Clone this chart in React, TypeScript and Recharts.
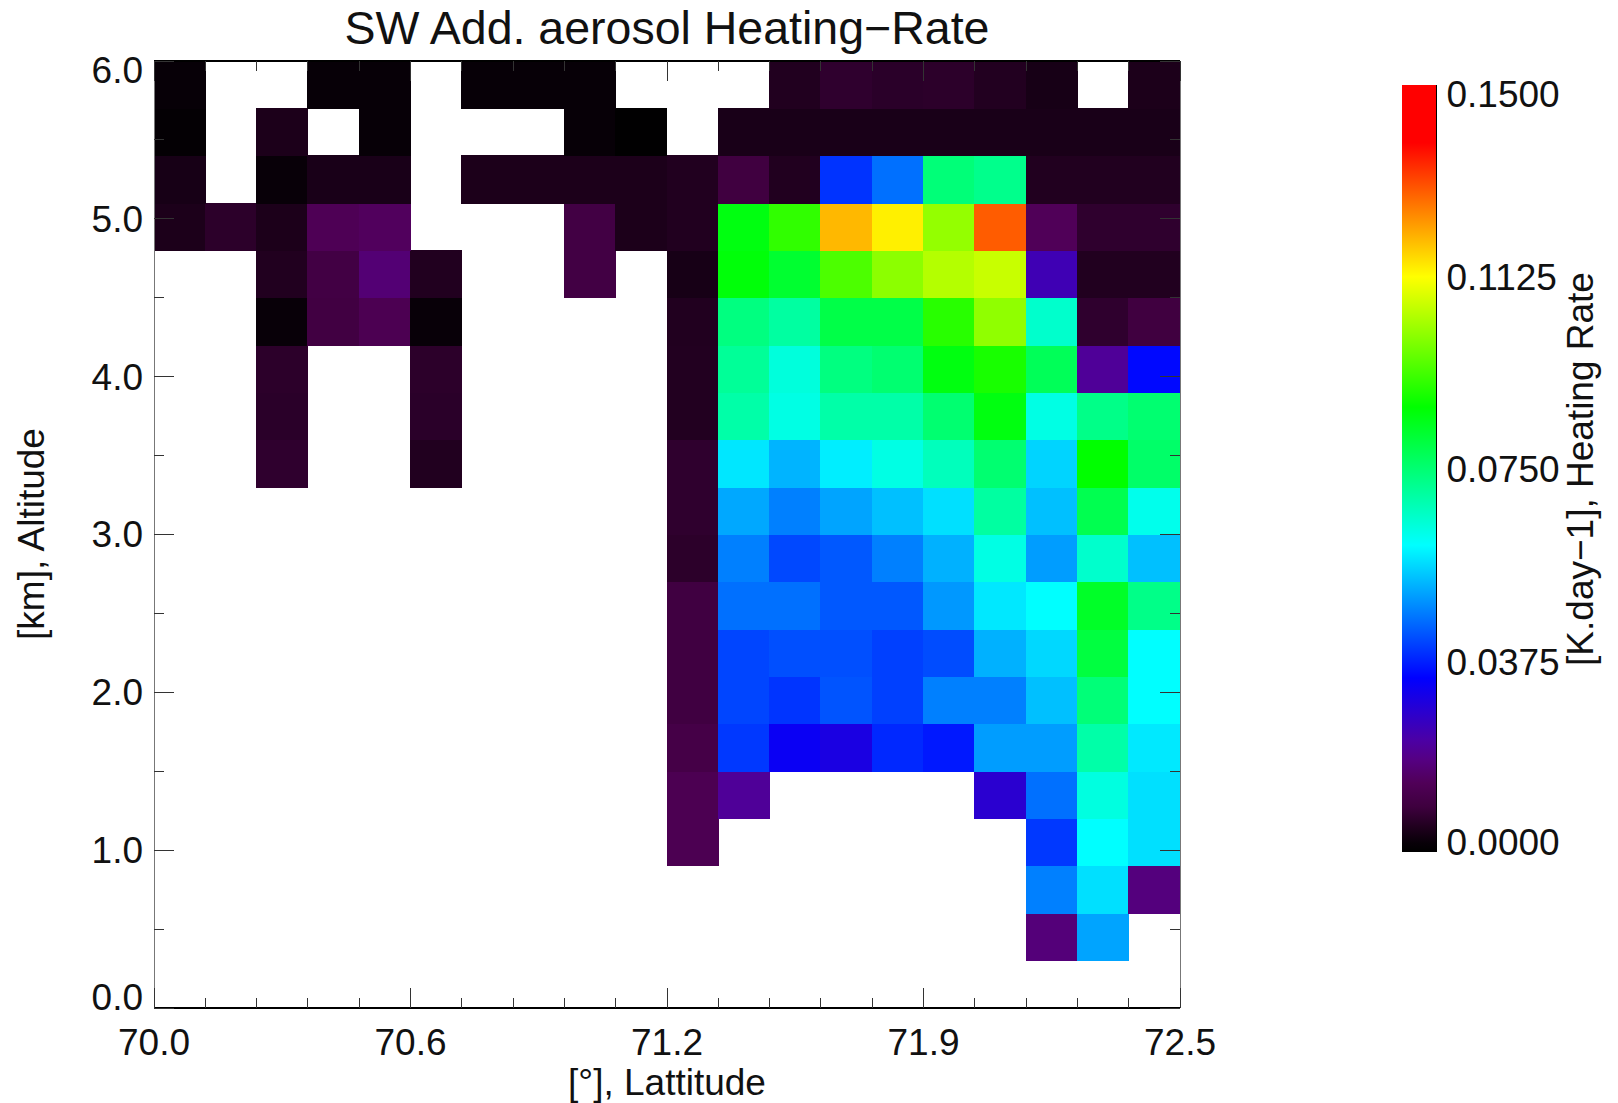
import React from "react"
import { BarChart, Bar, Cell, XAxis, YAxis } from "recharts"

const N = null

// heating rate per cell, K/day, one array per altitude row, top row first
const row570 = [0.0015, N, N, 0.0015, 0.0015, N, 0.0015, 0.0015, 0.0015, N, N, N, 0.005, 0.0068, 0.0062, 0.0064, 0.0052, 0.0038, N, 0.0044]
const row540 = [0.001, N, 0.0044, N, 0.0015, N, N, N, 0.0015, 0.0003, N, 0.004, 0.004, 0.004, 0.004, 0.004, 0.004, 0.004, 0.004, 0.004]
const row510 = [0.0038, N, 0.0018, 0.004, 0.004, N, 0.0044, 0.0044, 0.0044, 0.0044, 0.005, 0.0092, 0.005, 0.0392, 0.0454, 0.0743, 0.0722, 0.005, 0.005, 0.005]
const row480 = [0.0044, 0.0064, 0.0044, 0.013, 0.014, N, N, N, 0.0098, 0.0044, 0.005, 0.0853, 0.0918, 0.1198, 0.114, 0.1018, 0.1292, 0.0135, 0.0068, 0.0068]
const row450 = [N, N, 0.005, 0.0098, 0.0165, 0.005, N, N, 0.0098, N, 0.0038, 0.086, 0.0819, 0.0946, 0.101, 0.105, 0.107, 0.0239, 0.005, 0.005]
const row420 = [N, N, 0.0018, 0.0095, 0.0125, 0.0018, N, N, N, N, 0.005, 0.0735, 0.07, 0.0794, 0.0794, 0.091, 0.1014, 0.0654, 0.0068, 0.0092]
const row390 = [N, N, 0.0064, N, N, 0.0064, N, N, N, N, 0.0052, 0.0709, 0.0637, 0.0735, 0.0751, 0.0853, 0.0894, 0.0777, 0.0205, 0.0348]
const row360 = [N, N, 0.0062, N, N, 0.0062, N, N, N, N, 0.0052, 0.0692, 0.0629, 0.0692, 0.0692, 0.0751, 0.0853, 0.0629, 0.0726, 0.0751]
const row330 = [N, N, 0.0068, N, N, 0.005, N, N, N, N, 0.0068, 0.0576, 0.0524, 0.0583, 0.0629, 0.0671, 0.0751, 0.0556, 0.087, 0.076]
const row300 = [N, N, N, N, N, N, N, N, N, N, 0.0068, 0.0511, 0.047, 0.0507, 0.0536, 0.0568, 0.07, 0.0536, 0.0785, 0.062]
const row270 = [N, N, N, N, N, N, N, N, N, N, 0.0064, 0.047, 0.0413, 0.043, 0.047, 0.052, 0.0629, 0.05, 0.0654, 0.0536]
const row240 = [N, N, N, N, N, N, N, N, N, N, 0.0093, 0.0454, 0.0454, 0.043, 0.043, 0.0495, 0.0577, 0.06, 0.0828, 0.0726]
const row210 = [N, N, N, N, N, N, N, N, N, N, 0.0093, 0.041, 0.0421, 0.0421, 0.0405, 0.0418, 0.052, 0.056, 0.0802, 0.06]
const row180 = [N, N, N, N, N, N, N, N, N, N, 0.0093, 0.041, 0.0393, 0.0426, 0.0405, 0.047, 0.047, 0.0536, 0.0743, 0.06]
const row150 = [N, N, N, N, N, N, N, N, N, N, 0.0105, 0.0397, 0.0325, 0.03, 0.0381, 0.0364, 0.05, 0.05, 0.0692, 0.0578]
const row120 = [N, N, N, N, N, N, N, N, N, N, 0.0125, 0.0205, N, N, N, N, 0.0275, 0.0454, 0.0633, 0.0568]
const row090 = [N, N, N, N, N, N, N, N, N, N, 0.0125, N, N, N, N, N, N, 0.0397, 0.06, 0.0568]
const row060 = [N, N, N, N, N, N, N, N, N, N, N, N, N, N, N, N, N, 0.047, 0.0568, 0.0175]
const row030 = [N, N, N, N, N, N, N, N, N, N, N, N, N, N, N, N, N, 0.017, 0.0507, N]
const row000 = [N, N, N, N, N, N, N, N, N, N, N, N, N, N, N, N, N, N, N, N]

const rows = [row570, row540, row510, row480, row450, row420, row390, row360, row330, row300, row270, row240, row210, row180, row150, row120, row090, row060, row030, row000]

const columns = [70.0625, 70.1875, 70.3125, 70.4375, 70.5625, 70.6875, 70.8125, 70.9375, 71.0625, 71.1875, 71.3125, 71.4375, 71.5625, 71.6875, 71.8125, 71.9375, 72.0625, 72.1875, 72.3125, 72.4375]
const rowHeight = 0.3

const xMajor = [70, 70.625, 71.25, 71.875, 72.5]
const xMajorLabels = ["70.0", "70.6", "71.2", "71.9", "72.5"]
const xTicks = [70, 70.125, 70.25, 70.375, 70.5, 70.625, 70.75, 70.875, 71, 71.125, 71.25, 71.375, 71.5, 71.625, 71.75, 71.875, 72, 72.125, 72.25, 72.375, 72.5]
const yMajor = [0, 1, 2, 3, 4, 5, 6]
const yTicks = [0, 0.5, 1, 1.5, 2, 2.5, 3, 3.5, 4, 4.5, 5, 5.5, 6]
const barTicks = [0, 0.0375, 0.075, 0.1125, 0.15]
const barTickNudge = [-10, 2, 1, 0, 9]

// colour table
const stopValues = [0, 0.0018, 0.0049, 0.0088, 0.0135, 0.018, 0.0219, 0.0278, 0.034, 0.06, 0.087, 0.1125, 0.1387, 0.15]
const stopColors = [[0, 0, 0], [8, 0, 8], [32, 0, 30], [62, 0, 62], [80, 0, 88], [85, 0, 130], [75, 0, 165], [40, 0, 210], [0, 0, 255], [0, 255, 255], [0, 255, 0], [255, 255, 0], [255, 0, 0], [255, 0, 0]]

const colorOf = (v: number) => {
  let i = 0
  while (i < stopValues.length - 2 && v > stopValues[i + 1]) i++
  const t = Math.min(1, (v - stopValues[i]) / (stopValues[i + 1] - stopValues[i]))
  const c = stopColors[i].map((a, k) => Math.round(a + (stopColors[i + 1][k] - a) * t))
  return `rgb(${c[0]},${c[1]},${c[2]})`
}

// stacked from the ground up, so the table only holds the row thickness
const chartData = columns.map((lat) => {
  const result: any = { lat }
  rows.forEach((_, r) => {
    result[`r${r}`] = rowHeight
  })
  return result
})

const font = "'Liberation Sans', Arial, sans-serif"
const ink = "#111"
const tickInk = "#333"
const fontSize = 37
const majorLen = 20
const minorLen = 10

const BottomTick = ({ x, y, payload }: any) => {
  const i = xMajor.indexOf(payload.value)
  return (
    <g>
      <line x1={x} x2={x} y1={y} y2={y - (i >= 0 ? majorLen : minorLen)} stroke={tickInk} />
      {i >= 0 && (
        <text x={x} y={y + 47} textAnchor="middle" fontSize={fontSize} fontFamily={font} fill={ink}>
          {xMajorLabels[i]}
        </text>
      )}
    </g>
  )
}

const TopTick = ({ x, y, payload }: any) => (
  <line x1={x} x2={x} y1={y} y2={y + (xMajor.includes(payload.value) ? majorLen : minorLen)} stroke={tickInk} />
)

const LeftTick = ({ x, y, payload }: any) => {
  const major = yMajor.includes(payload.value)
  // the end labels sit inside the axis range
  const shift = payload.value === 6 ? 9 : payload.value === 0 ? -11 : 0
  return (
    <g>
      <line x1={x} x2={x + (major ? majorLen : minorLen)} y1={y} y2={y} stroke={tickInk} />
      {major && (
        <text x={x - 11} y={y + shift} dy="0.35em" textAnchor="end" fontSize={fontSize} fontFamily={font} fill={ink}>
          {payload.value.toFixed(1)}
        </text>
      )}
    </g>
  )
}

const RightTick = ({ x, y, payload }: any) => (
  <line x1={x} x2={x - (yMajor.includes(payload.value) ? majorLen : minorLen)} y1={y} y2={y} stroke={tickInk} />
)

const BarTick = ({ x, y, payload }: any) => (
  <text x={x} y={y + barTickNudge[barTicks.indexOf(payload.value)]} dy="0.35em" textAnchor="start" fontSize={fontSize} fontFamily={font} fill={ink}>
    {payload.value.toFixed(4)}
  </text>
)

export default function App() {
  const latAxis = { dataKey: "lat", type: "number" as const, domain: [70, 72.5], allowDataOverflow: true, ticks: xTicks, interval: 0 as const, tickLine: false, tickSize: 0, tickMargin: 0 }
  const altAxis = { type: "number" as const, domain: [0, 6], allowDataOverflow: true, ticks: yTicks, interval: 0 as const, tickLine: false, tickSize: 0, tickMargin: 0 }
  return (
    <div style={{ position: "absolute", left: 0, top: 0, width: 1618, height: 1103, shapeRendering: "crispEdges", background: "#fff" }}>
      <BarChart
        width={1618}
        height={1103}
        data={chartData}
        barCategoryGap={0}
        margin={{ top: 61, right: 438, bottom: 35, left: 54 }}
      >
        <XAxis xAxisId="cols" dataKey="lat" hide height={0} />
        <YAxis yAxisId="alt" type="number" domain={[0, 6]} hide width={0} />
        {rows
          .map((row, r) => (
            <Bar key={r} xAxisId="cols" yAxisId="alt" dataKey={`r${r}`} stackId="cells" isAnimationActive={false}>
              {row.map((v, c) => {
                const fill = v === null ? "none" : colorOf(v)
                return <Cell key={c} fill={fill} stroke={fill} strokeWidth={1} />
              })}
            </Bar>
          ))
          .reverse()}

        <XAxis xAxisId="latBottom" {...latAxis} height={60} axisLine={{ stroke: "#000", strokeWidth: 1.5 }} tick={<BottomTick />} />
        <XAxis xAxisId="latTop" {...latAxis} orientation="top" mirror height={1} axisLine={{ stroke: "#000", strokeWidth: 1.5 }} tick={<TopTick />} />
        <YAxis yAxisId="altLeft" {...altAxis} width={100} axisLine={{ stroke: "#777" }} tick={<LeftTick />} />
        <YAxis yAxisId="altRight" {...altAxis} orientation="right" mirror width={1} axisLine={{ stroke: "#777" }} tick={<RightTick />} />

        <text x={667} y={44} textAnchor="middle" fontSize={46.5} fontFamily={font} fill={ink}>
          SW Add. aerosol Heating−Rate
        </text>
        <text x={667} y={1095} textAnchor="middle" fontSize={fontSize} fontFamily={font} fill={ink}>
          [°], Lattitude
        </text>
        <text transform="translate(44,534) rotate(-90)" textAnchor="middle" fontSize={fontSize} fontFamily={font} fill={ink}>
          [km], Altitude
        </text>
        <text transform="translate(1593,469) rotate(-90)" textAnchor="middle" fontSize={fontSize} fontFamily={font} fill={ink}>
          [K.day−1], Heating Rate
        </text>
      </BarChart>

      <div style={{ position: "absolute", left: 1380, top: 0 }}>
        <BarChart
          width={238}
          height={1103}
          data={[{ name: "scale", top: barTicks[barTicks.length - 1] }]}
          barCategoryGap={0}
          margin={{ top: 85, right: 81.5, bottom: 251, left: 22 }}
        >
          <defs>
            <linearGradient id="heatScale" x1="0" y1="1" x2="0" y2="0">
              {stopValues.map((v, i) => (
                <stop key={i} offset={v / 0.15} stopColor={`rgb(${stopColors[i].join(",")})`} />
              ))}
            </linearGradient>
          </defs>
          <XAxis dataKey="name" hide height={0} />
          <YAxis
            orientation="right"
            type="number"
            domain={[0, 0.15]}
            ticks={barTicks}
            interval={0}
            width={100}
            tickLine={false}
            axisLine={{ stroke: "#000", strokeWidth: 1.5 }}
            tickMargin={4}
            tick={<BarTick />}
          />
          <Bar dataKey="top" fill="url(#heatScale)" isAnimationActive={false} />
        </BarChart>
      </div>
    </div>
  )
}
